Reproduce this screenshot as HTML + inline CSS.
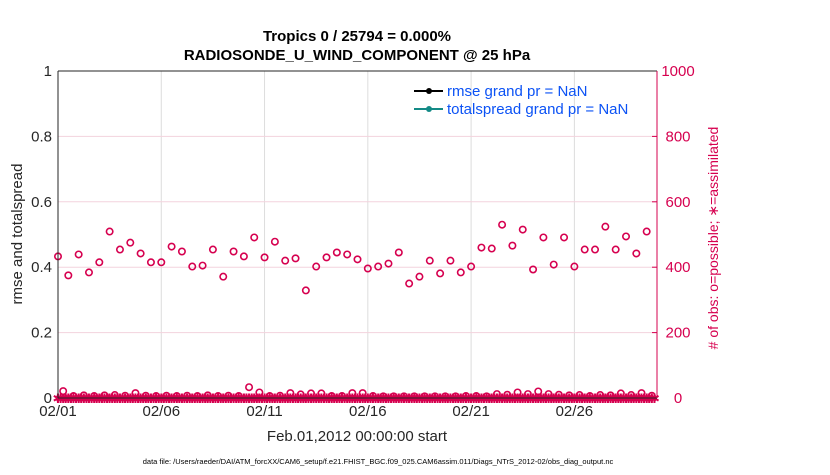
<!DOCTYPE html>
<html><head><meta charset="utf-8"><style>
body{margin:0;background:#fff;width:830px;height:470px;overflow:hidden;font-family:"Liberation Sans",Arial,sans-serif}
</style></head><body>
<svg id="chart" width="830" height="470">
<g id="grid"></g>
<g id="marks"></g>
<g id="axes"></g>
<text x="357" y="41" text-anchor="middle" font-size="15" font-weight="bold">Tropics 0 / 25794 = 0.000%</text>
<text x="357" y="60" text-anchor="middle" font-size="15" font-weight="bold">RADIOSONDE_U_WIND_COMPONENT @ 25 hPa</text>
<text transform="translate(22,234) rotate(-90)" text-anchor="middle" font-size="15" fill="#262626">rmse and totalspread</text>
<text transform="translate(718,238) rotate(-90)" text-anchor="middle" font-size="14" fill="#d6004f"># of obs: o=possible; ∗=assimilated</text>
<text x="357" y="441" text-anchor="middle" font-size="15" fill="#262626">Feb.01,2012 00:00:00 start</text>
<text x="378" y="464" text-anchor="middle" font-size="7.5" fill="#000">data file: /Users/raeder/DAI/ATM_forcXX/CAM6_setup/f.e21.FHIST_BGC.f09_025.CAM6assim.011/Diags_NTrS_2012-02/obs_diag_output.nc</text>
<g>
<line x1="414" y1="91" x2="443" y2="91" stroke="#000" stroke-width="2"/>
<circle cx="429" cy="91" r="3" fill="#000"/>
<text x="447" y="96" font-size="15" fill="#0b52f5">rmse grand pr = NaN</text>
<line x1="414" y1="109" x2="443" y2="109" stroke="#138a86" stroke-width="2"/>
<circle cx="429" cy="109" r="3" fill="#138a86"/>
<text x="447" y="114" font-size="15" fill="#0b52f5">totalspread grand pr = NaN</text>
</g>
</svg>
<script>
const possibleCounts = [433,375,439,384,415,509,454,475,442,415,415,463,448,402,405,454,371,448,433,491,430,478,420,427,329,402,430,445,439,424,396,402,411,445,350,371,420,381,420,384,402,460,457,530,466,515,393,491,408,491,402,454,454,524,454,494,442,509];
const possibleLow = [21,6,8,6,8,9,7,15,7,6,7,6,7,6,8,6,7,6,33,17,6,7,15,11,14,14,6,6,15,15,6,5,5,5,5,5,5,5,5,6,6,5,12,10,17,12,20,12,10,8,9,6,9,8,14,9,15,7];
const assimilated = new Array(232).fill(0);
const xTickLabels = ["02/01","02/06","02/11","02/16","02/21","02/26"];
const xTickDays = [0,5,10,15,20,25];
const leftTicks = [0,0.2,0.4,0.6,0.8,1];
const rightTicks = [0,200,400,600,800,1000];

const X0=58,X1=657,Y0=398,Y1=71,DMAX=29;
const sx=d=>X0+(X1-X0)*d/DMAX;
const syR=v=>Y0-(Y0-Y1)*v/1000;
const syL=v=>Y0-(Y0-Y1)*v;
const NS="http://www.w3.org/2000/svg";
function mk(tag,attrs,parent){const e=document.createElementNS(NS,tag);for(const k in attrs)e.setAttribute(k,attrs[k]);parent.appendChild(e);return e;}
const grid=document.getElementById('grid'),marks=document.getElementById('marks'),axes=document.getElementById('axes');
xTickDays.forEach((d,i)=>{
  const g=mk('line',{x1:sx(d),x2:sx(d),y1:Y1,y2:Y0,stroke:'#dcdcdc','stroke-width':1},grid);
  
  
  const t=mk('text',{x:sx(d),y:Y0+18,'text-anchor':'middle','font-size':15,fill:'#262626'},axes);
  t.textContent=xTickLabels[i];
  
  
});
rightTicks.forEach(v=>{
  const g=mk('line',{x1:X0,x2:X1,y1:syR(v),y2:syR(v),stroke:'#f3d3dd','stroke-width':1},grid);
  
  
  const t=mk('text',{x:678,y:syR(v)+5,'text-anchor':'middle','font-size':15,fill:'#d6004f'},axes);
  t.textContent=v;
  
  
  const tk=mk('line',{x1:X1-5,x2:X1,y1:syR(v),y2:syR(v),stroke:'#d6004f'},axes);
  
  
});
leftTicks.forEach(v=>{
  const t=mk('text',{x:X0-6,y:syL(v)+5,'text-anchor':'end','font-size':15,fill:'#262626'},axes);
  t.textContent=(v===0||v===1)?String(v):v.toFixed(1);
  
  
});
let a=mk('line',{x1:X0,x2:X0,y1:Y1,y2:Y0,stroke:'#262626'},axes);


a=mk('line',{x1:X0,x2:X1,y1:Y1,y2:Y1,stroke:'#262626'},axes);


a=mk('line',{x1:X0,x2:X1,y1:Y0,y2:Y0,stroke:'#262626'},axes);


a=mk('line',{x1:X1,x2:X1,y1:Y1,y2:Y0,stroke:'#d6004f'},axes);


assimilated.forEach((v,i)=>{
  const x=sx(i*0.125),y=syR(v);
  const s=mk('text',{x:x,y:y+5,'text-anchor':'middle','font-size':13,fill:'#d6004f'},marks);
  s.textContent='✱';
  
  
});
possibleCounts.forEach((v,i)=>{
  const c=mk('circle',{cx:sx(i*0.5),cy:syR(v),r:3.2,fill:'none',stroke:'#d6004f','stroke-width':1.6},marks);
  
  
});
possibleLow.forEach((v,i)=>{
  const c=mk('circle',{cx:sx(i*0.5+0.25),cy:syR(v),r:3.2,fill:'none',stroke:'#d6004f','stroke-width':1.6},marks);
  
  
});
</script>
</body></html>
